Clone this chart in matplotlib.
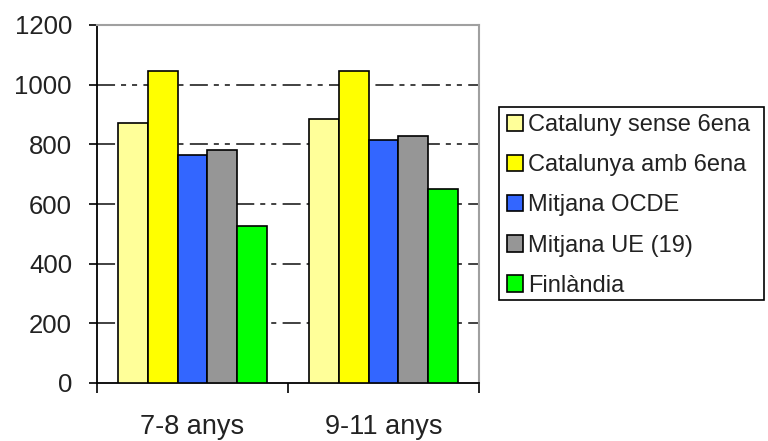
import matplotlib
matplotlib.use("Agg")
import matplotlib.pyplot as plt
from matplotlib.patches import Rectangle
import numpy as np

plt.rcParams['font.family'] = ['Liberation Sans', 'DejaVu Sans']

categories = ["7-8 anys", "9-11 anys"]
series_names = ["Cataluny sense 6ena", "Catalunya amb 6ena", "Mitjana OCDE",
                "Mitjana UE (19)", "Finlàndia"]
cat_sense_6ena = [870, 885]
cat_amb_6ena = [1045, 1045]
mitjana_ocde = [765, 815]
mitjana_ue = [780, 827]
finlandia = [525, 650]
yticks = [0, 200, 400, 600, 800, 1000, 1200]

series = [cat_sense_6ena, cat_amb_6ena, mitjana_ocde, mitjana_ue, finlandia]
colors = ["#FFFF99", "#FFFF00", "#3366FF", "#969696", "#00FF00"]

fig = plt.figure(figsize=(7.68, 4.41), dpi=100)
ax = fig.add_axes([97/768, 1-383/441, (479-97)/768, (383-25)/441])

x = np.arange(len(categories))
w = 0.156
for i, (vals, c, name) in enumerate(zip(series, colors, series_names)):
    ax.bar(x + (i - 2) * w, vals, width=w, color=c, edgecolor="black",
           linewidth=1.2, label=name, zorder=3)

ax.set_xlim(-0.5, 1.5)
ax.set_ylim(0, 1200)
ax.set_yticks(yticks)
ax.set_yticklabels([str(t) for t in yticks], fontsize=18.5, color="#222222")

# gridlines dash-dot-dot
for t in yticks[1:-1]:
    ax.axhline(t, color="#333333", linewidth=1.3, zorder=1,
               dashes=(10, 3.3, 2.8, 3.3, 2.8, 3.5))

ax.set_xticks(x)
ax.set_xticklabels(categories, fontsize=19.5, color="#222222")
ax.tick_params(axis="x", which="major", length=0, pad=22)
ax.set_xticks([-0.5, 0.5, 1.5], minor=True)
ax.tick_params(axis="x", which="minor", length=7, width=1.2, direction="out")
ax.tick_params(axis="y", length=6, width=1.2, direction="out", pad=12)

for s in ["left", "bottom"]:
    ax.spines[s].set_color("black")
    ax.spines[s].set_linewidth(1.3)
for s in ["top", "right"]:
    ax.spines[s].set_color("#A0A0A0")
    ax.spines[s].set_linewidth(1.5)

# legend frame box
fig.patches.append(Rectangle((499/768, 1-300/441), 265/768, 193/441,
                             transform=fig.transFigure, fill=False,
                             edgecolor="black", linewidth=1.2))

leg = fig.legend(loc="center left", bbox_to_anchor=(507/768, 1-205.5/441),
                 fontsize=17, frameon=False, handlelength=0.68,
                 handleheight=0.68, handletextpad=0.2, labelspacing=0.77,
                 borderpad=0, borderaxespad=0)
for t in leg.get_texts():
    t.set_color("#222222")

fig.savefig("out.png", dpi=100)
